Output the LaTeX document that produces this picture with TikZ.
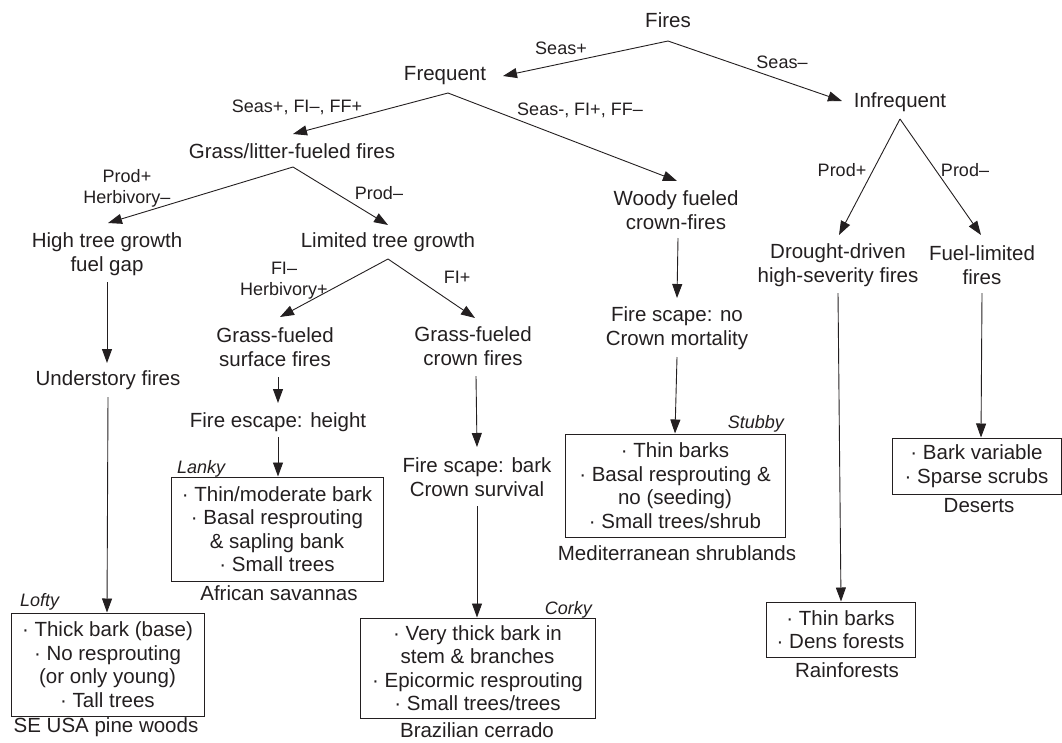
\documentclass[tikz,border=0pt]{standalone}
\usepackage{fontspec}
\setmainfont{Liberation Sans}
\usetikzlibrary{arrows.meta}
\definecolor{ink}{RGB}{35,31,32}
\begin{document}
\begin{tikzpicture}[x=1pt,y=-1pt,
  txt/.style={font=\fontsize{20.5}{23.5}\selectfont, align=center, inner sep=0pt, text=ink},
  lbl/.style={font=\fontsize{18}{21}\selectfont, align=center, inner sep=0pt, text=ink},
  tag/.style={font=\fontsize{18}{20}\selectfont\itshape, inner sep=0pt, text=ink},
  box/.style={draw=ink, line width=1pt, align=center, inner sep=0pt, text=ink,
    font=\fontsize{20.5}{23.5}\selectfont},
  arr/.style={-{Triangle[length=14pt,width=10pt]}, line width=0.9pt, draw=ink},
  ln/.style={line width=0.9pt, draw=ink}
]
\useasboundingbox (0,0) rectangle (1062,742);

% main text nodes
\node[txt] (fires) at (668,20) {Fires};
\node[txt] (frequent) at (445,76) {Frequent};
\node[txt] (infrequent) at (900,102) {Infrequent};
\node[txt] (grass) at (292,151) {Grass/litter-fueled fires};
\node[txt] (woody) at (676,210) {Woody fueled\\crown-fires};
\node[txt] (hightree) at (107,254) {High tree growth\\fuel gap};
\node[txt] (limited) at (388,242) {Limited tree growth};
\node[txt] (understory) at (108,380) {Understory fires};
\node[txt] (surface) at (275,347) {Grass-fueled\\surface fires};
\node[txt] (crownf) at (473,346) {Grass-fueled\\crown fires};
\node[txt] (escapeh) at (278,422) {Fire escape: height};
\node[txt] (scapebark) at (477,477) {Fire scape: bark\\Crown survival};
\node[txt] (scapeno) at (677,328) {Fire scape: no\\Crown mortality};
\node[txt] (drought) at (838,265) {Drought-driven\\high-severity fires};
\node[txt] (fuellim) at (982,265) {Fuel-limited\\fires};

% boxes
\node[box, minimum width=193, minimum height=103] (lofty) at (107.5,664.5)
  {· Thick bark (base)\\· No resprouting\\(or only young)\\· Tall trees};
\node[box, minimum width=212, minimum height=104] (lanky) at (277,529)
  {· Thin/moderate bark\\· Basal resprouting\\\& sapling bank\\· Small trees};
\node[box, minimum width=235, minimum height=100] (corky) at (477.5,668)
  {· Very thick bark in\\stem \& branches\\· Epicormic resprouting\\· Small trees/trees};
\node[box, minimum width=220, minimum height=103] (stubby) at (675,485.5)
  {· Thin barks\\· Basal resprouting \&\\no (seeding)\\· Small trees/shrub};
\node[box, minimum width=149, minimum height=55] (rain) at (840.5,629.5)
  {· Thin barks\\· Dens forests};
\node[box, minimum width=169, minimum height=56] (desert) at (976.5,466)
  {· Bark variable\\· Sparse scrubs};

% captions under boxes
\node[txt] (capse) at (106,727) {SE USA pine woods};
\node[txt] (capaf) at (279,593) {African savannas};
\node[txt] (capbr) at (477,730) {Brazilian cerrado};
\node[txt] (capme) at (677,553) {Mediterranean shrublands};
\node[txt] (capra) at (847,670) {Rainforests};
\node[txt] (capde) at (979,506) {Deserts};

% italic tags
\node[tag, anchor=west] (tlofty) at (20,602) {Lofty};
\node[tag, anchor=west] (tlanky) at (177,469) {Lanky};
\node[tag, anchor=east] (tcorky) at (592,610) {Corky};
\node[tag, anchor=east] (tstubby) at (784,424) {Stubby};

% edge labels
\node[lbl] (l1) at (561,48) {Seas+};
\node[lbl] (l2) at (782,62) {Seas–};
\node[lbl] (l3) at (297,107) {Seas+, FI–, FF+};
\node[lbl] (l4) at (580,110) {Seas-, FI+, FF–};
\node[lbl] (l5) at (127,188) {Prod+\\Herbivory–};
\node[lbl] (l6) at (379,193) {Prod–};
\node[lbl] (l7) at (284,281) {FI–\\Herbivory+};
\node[lbl] (l8) at (457,277) {FI+};
\node[lbl] (l9) at (842,170) {Prod+};
\node[lbl] (l10) at (965,170) {Prod–};

% apex and tip coordinates
\coordinate (aF) at (668,41);
\coordinate (tFreq) at (503,76);
\coordinate (tInf) at (842,101);
\coordinate (aFreq) at (448,93);
\coordinate (tGrass) at (293,134);
\coordinate (tWoody) at (677,181);
\coordinate (aGrass) at (293,167);
\coordinate (tHigh) at (108,223);
\coordinate (tLim) at (388,225);
\coordinate (aLim) at (388,259);
\coordinate (tSurf) at (280,317);
\coordinate (tCrown) at (475,318);
\coordinate (aInf) at (900,119);
\coordinate (tDrought) at (839,235);
\coordinate (tFuel) at (981,235);

\draw[arr] (aF) -- (tFreq);
\draw[arr] (aF) -- (tInf);
\draw[arr] (aFreq) -- (tGrass);
\draw[arr] (aFreq) -- (tWoody);
\draw[arr] (aGrass) -- (tHigh);
\draw[arr] (aGrass) -- (tLim);
\draw[arr] (aLim) -- (tSurf);
\draw[arr] (aLim) -- (tCrown);
\draw[arr] (aInf) -- (tDrought);
\draw[arr] (aInf) -- (tFuel);

% vertical connectors
\draw[arr] (107,282) -- (107,363);
\draw[arr] (108,397) -- (lofty.north -| 107,0);
\draw[arr] (278,377) -- (278,403);
\draw[arr] (278,437) -- (lanky.north -| 278,0);
\draw[arr] (476,376) -- (477,447);
\draw[arr] (477,506) -- (corky.north -| 477,0);
\draw[arr] (678,238) -- (677,298);
\draw[arr] (677,357) -- (stubby.north -| 675,0);
\draw[arr] (838,293) -- (rain.north -| 841,0);
\draw[arr] (982,293) -- (desert.north -| 981,0);
\end{tikzpicture}
\end{document}
